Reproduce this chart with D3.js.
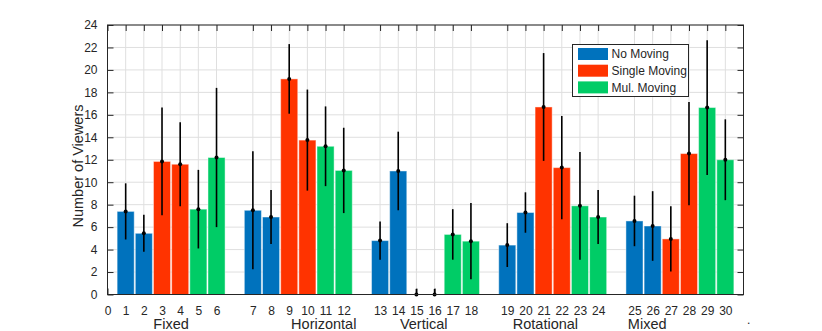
<!DOCTYPE html>
<html><head><meta charset="utf-8">
<script src="https://cdn.jsdelivr.net/npm/d3@7"></script>
<style>body{margin:0;background:#fff}svg{display:block}text{font-family:"Liberation Sans",Arial,sans-serif;fill:#262626}</style>
</head><body><svg id="c" width="822" height="331"></svg>
<script>
const categories = ["Fixed","Horizontal","Vertical","Rotational","Mixed"];
const categoryLabelPos = [3.5, 11.9, 17.4, 24.1, 29.7];
const seriesNames = ["No Moving","Single Moving","Mul. Moving"];
const seriesColors = ["#0072BD","#FF3300","#00CC66"];
// two bars per category per series
const noMoving     = [7.4, 5.45, 7.5, 6.9, 4.8, 11.0, 4.4, 7.3, 6.55, 6.1];
const singleMoving = [11.85, 11.6, 19.2, 13.75, 0, 0, 16.7, 11.3, 4.95, 12.55];
const mulMoving    = [7.6, 12.2, 13.2, 11.05, 5.35, 4.75, 7.9, 6.9, 16.65, 12.0];
const noMovingErr     = [2.5, 1.65, 5.25, 2.4, 1.7, 3.5, 1.95, 1.8, 2.25, 3.1];
const singleMovingErr = [4.8, 3.75, 3.1, 4.5, 0.5, 0.5, 4.8, 4.6, 2.9, 4.6];
const mulMovingErr    = [3.5, 6.2, 3.55, 3.8, 2.25, 3.4, 4.8, 2.4, 6.0, 3.6];
const yTicks = d3.range(0, 25, 2);

const seriesVals = [noMoving, singleMoving, mulMoving];
const seriesErrs = [noMovingErr, singleMovingErr, mulMovingErr];
const bars = [];
categories.forEach((c, g) => {
  for (let s = 0; s < 3; s++) for (let r = 0; r < 2; r++) {
    const idx = g * 6 + s * 2 + r;
    bars.push({label: idx + 1, pos: idx + 1 + g, v: seriesVals[s][g*2+r], e: seriesErrs[s][g*2+r], s});
  }
});

const svg = d3.select("#c");
const L = 107.5, R = 743.5, T = 25, B = 294.5;
const x = d3.scaleLinear().domain([0, 35]).range([L, R]);
const y = d3.scaleLinear().domain([0, 24]).range([B, T]);
const xTickPos = [0].concat(bars.map(d => d.pos));
const xTickLab = ["0"].concat(bars.map(d => String(d.label)));
const grid = "#dfdfdf";

// grid
svg.append("g").selectAll("line").data(yTicks).join("line")
  .attr("x1", L).attr("x2", R).attr("y1", d => y(d)).attr("y2", d => y(d))
  .attr("stroke", grid).attr("stroke-width", 1);
svg.append("g").selectAll("line").data(xTickPos).join("line")
  .attr("x1", d => x(d)).attr("x2", d => x(d)).attr("y1", T).attr("y2", B)
  .attr("stroke", grid).attr("stroke-width", 1);

// axes with inward ticks
const axB = svg.append("g").attr("transform", `translate(0,${B})`)
  .call(d3.axisBottom(x).tickValues(xTickPos).tickFormat((d, i) => xTickLab[i]).tickSize(-6).tickPadding(11.5));
const axT = svg.append("g").attr("transform", `translate(0,${T})`)
  .call(d3.axisTop(x).tickValues(xTickPos).tickFormat("").tickSize(-6));
const axL = svg.append("g").attr("transform", `translate(${L},0)`)
  .call(d3.axisLeft(y).tickValues(yTicks).tickSize(-6).tickPadding(10));
const axR = svg.append("g").attr("transform", `translate(${R},0)`)
  .call(d3.axisRight(y).tickValues(yTicks).tickFormat("").tickSize(-6));
[axB, axT, axL, axR].forEach(a => {
  a.select(".domain").remove();
  a.selectAll(".tick line").attr("stroke", "#262626");
  a.selectAll("text").style("font-size", "12px").attr("fill", "#262626").style("font-family", '"Liberation Sans",Arial,sans-serif');
});

// bars
const hw = 0.47;
svg.append("g").selectAll("rect").data(bars.filter(d => d.v > 0)).join("rect")
  .attr("x", d => x(d.pos - hw)).attr("width", d => x(d.pos + hw) - x(d.pos - hw))
  .attr("y", d => y(d.v)).attr("height", d => y(0) - y(d.v))
  .attr("fill", d => seriesColors[d.s]).attr("stroke", "#ffffff").attr("stroke-opacity", 0.45).attr("stroke-width", 1);

// error bars
const eg = svg.append("g");
eg.selectAll("line").data(bars).join("line")
  .attr("x1", d => x(d.pos)).attr("x2", d => x(d.pos))
  .attr("y1", d => y(Math.min(24, d.v + d.e))).attr("y2", d => y(Math.max(0, d.v - d.e)))
  .attr("stroke", "#000").attr("stroke-width", 1.6);
eg.selectAll("circle").data(bars).join("circle")
  .attr("cx", d => x(d.pos)).attr("cy", d => y(d.v)).attr("r", 2).attr("fill", "#000");

// box
svg.append("rect").attr("x", L).attr("y", T).attr("width", R - L).attr("height", B - T)
  .attr("fill", "none").attr("stroke", "#262626").attr("stroke-width", 1);

// category labels
svg.append("g").selectAll("text").data(categories).join("text")
  .attr("x", (d, i) => x(categoryLabelPos[i])).attr("y", 329)
  .attr("text-anchor", "middle").style("font-size", "14.5px").text(d => d);
svg.append("text").attr("x", 747).attr("y", 324).style("font-size", "12px").text(".");

// y label
svg.append("text").attr("transform", "translate(83,166) rotate(-90)")
  .attr("text-anchor", "middle").style("font-size", "14.5px").text("Number of Viewers");

// legend
const lg = svg.append("g");
lg.append("rect").attr("x", 572.5).attr("y", 44.5).attr("width", 116).attr("height", 52)
  .attr("fill", "#fff").attr("stroke", "#262626").attr("stroke-width", 1);
seriesNames.forEach((n, i) => {
  const cy = 54 + i * 16.7;
  lg.append("rect").attr("x", 578).attr("y", cy - 6).attr("width", 30).attr("height", 12).attr("fill", seriesColors[i]);
  lg.append("text").attr("x", 611.5).attr("y", cy + 4.3).style("font-size", "12px").text(n);
});
</script></body></html>
